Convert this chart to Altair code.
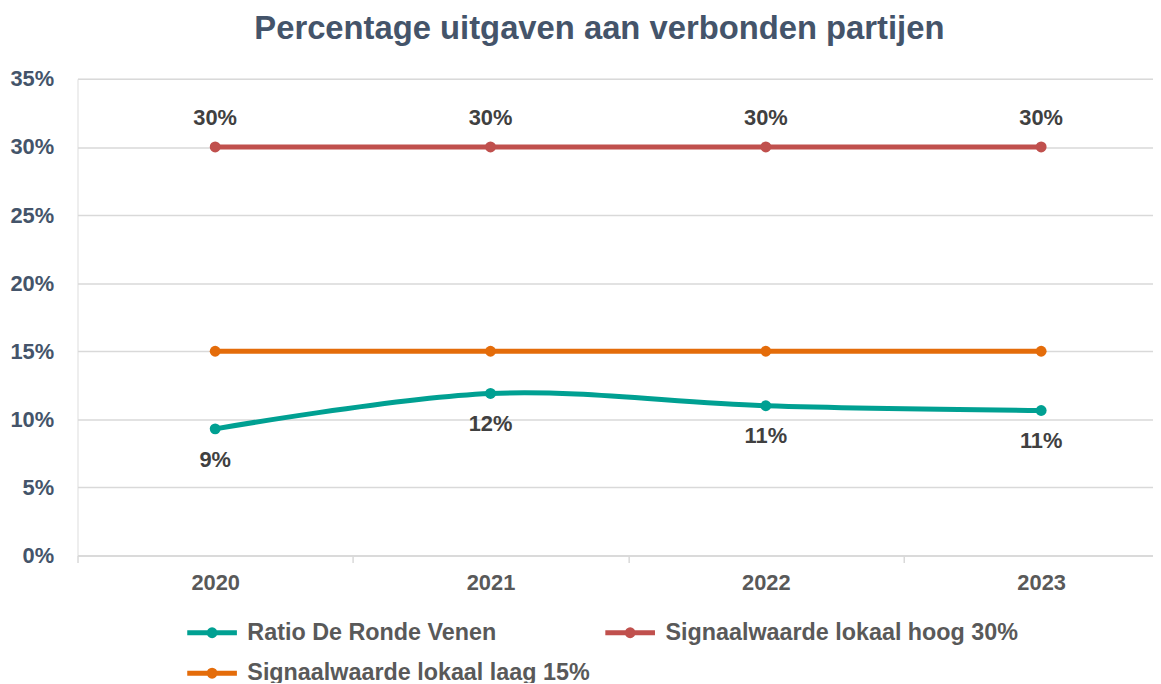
import altair as alt
import pandas as pd

years = ["2020", "2021", "2022", "2023"]
series_names = ["Ratio De Ronde Venen", "Signaalwaarde lokaal hoog 30%", "Signaalwaarde lokaal laag 15%"]
ratio = [0.093, 0.119, 0.110, 0.1065]
hoog = [0.30, 0.30, 0.30, 0.30]
laag = [0.15, 0.15, 0.15, 0.15]
colors = ["#00A092", "#C0504D", "#E46C0A"]

rows = []
for name, vals in zip(series_names, [ratio, hoog, laag]):
    for y, v in zip(years, vals):
        rows.append({"jaar": y, "waarde": v, "reeks": name})
df = pd.DataFrame(rows)

FONT = "Liberation Sans, Arial, sans-serif"

x_enc = alt.X(
    "jaar:O",
    bandPosition=0.5,
    scale=alt.Scale(type="band", range=[0, 1109], paddingInner=0, paddingOuter=0),
    axis=alt.Axis(
        title=None, labelAngle=0, grid=False, tickBand="extent",
        domainColor="#D9D9D9", domainWidth=1.5, tickColor="#D9D9D9", tickWidth=1.5,
        tickSize=7, labelPadding=10, labelFont=FONT, labelFontSize=22,
        labelFontWeight="bold", labelColor="#595959",
    ),
)
y_enc = alt.Y(
    "waarde:Q",
    scale=alt.Scale(domain=[0, 0.35], nice=False),
    axis=alt.Axis(
        title=None, format=".0%", values=[0, 0.05, 0.10, 0.15, 0.20, 0.25, 0.30, 0.35],
        domain=False, ticks=False, gridColor="#D9D9D9", gridWidth=1.5,
        labelPadding=24, labelFont=FONT, labelFontSize=22, labelFontWeight="bold",
        labelColor="#44546A",
    ),
)
color_enc = alt.Color(
    "reeks:N",
    sort=series_names,
    scale=alt.Scale(domain=series_names, range=colors),
    legend=alt.Legend(
        title=None, orient="none", legendX=108, legendY=530, columns=2,
        direction="horizontal",
        symbolType="M-1,0L1,0M-0.12,0A0.12,0.12,0,1,0,0.12,0A0.12,0.12,0,1,0,-0.12,0Z",
        symbolSize=2500, symbolStrokeWidth=5, labelFont=FONT, labelFontSize=23.5,
        labelFontWeight="bold", labelColor="#595959", labelOffset=8,
        rowPadding=-12, columnPadding=5, labelLimit=500,
    ),
)

base = alt.Chart(df)
lines = base.mark_line(strokeWidth=5, interpolate="catmull-rom").encode(
    x=x_enc, y=y_enc, color=color_enc
)
points = base.mark_point(filled=True, size=120, opacity=1).encode(
    x=x_enc, y=y_enc, color=alt.Color("reeks:N", sort=series_names,
                                      scale=alt.Scale(domain=series_names, range=colors), legend=None)
)
lab_hoog = base.transform_filter(alt.datum.reeks == series_names[1]).mark_text(
    dy=-29, font=FONT, fontSize=22, fontWeight="bold", color="#404040"
).encode(x=x_enc, y=y_enc, text=alt.Text("waarde:Q", format=".0%"))
lab_ratio = base.transform_filter(alt.datum.reeks == series_names[0]).mark_text(
    dy=31, font=FONT, fontSize=22, fontWeight="bold", color="#404040"
).encode(x=x_enc, y=y_enc, text=alt.Text("waarde:Q", format=".0%"))

chart = alt.layer(lines, points, lab_hoog, lab_ratio).properties(
    width=1083, height=480,
    title=alt.TitleParams(
        "Percentage uitgaven aan verbonden partijen", font=FONT, fontSize=33,
        fontWeight="bold", color="#44546A", anchor="middle", frame="group",
        dx=-16, offset=22,
    ),
    autosize=alt.AutoSizeParams(type="none"),
    padding={"left": 70, "top": 69, "right": 0, "bottom": 126},
).configure_view(stroke=None).configure(background="white")

chart.save("out.html", embed_options={"renderer": "svg", "actions": False})
